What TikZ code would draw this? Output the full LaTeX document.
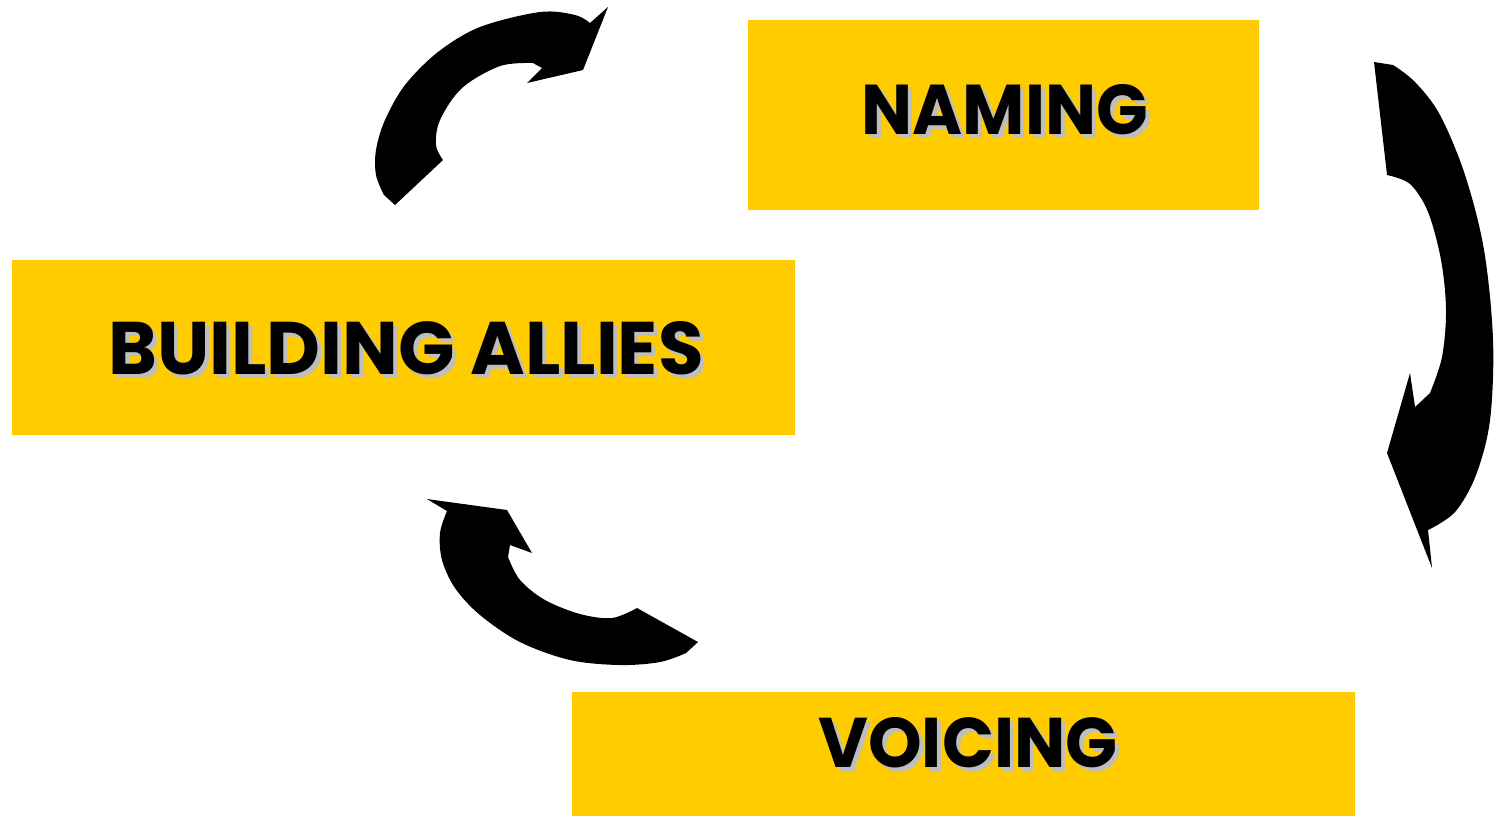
\documentclass[tikz,border=0pt]{standalone}
\usepackage{fontspec}
\setmainfont{Poppins}
\definecolor{gold}{RGB}{255,204,0}
\definecolor{shadowgray}{RGB}{190,190,190}
\newcommand\fitlabel[3]{\resizebox{#1}{#2}{\bfseries #3}}
\tikzset{
  box/.style={fill=gold, draw=none},
  txt/.style={inner sep=0pt, outer sep=0pt, text=black},
  shadowtxt/.style={inner sep=0pt, outer sep=0pt, text=shadowgray},
  cyclearrow/.style={fill=black, draw=none},
  curve/.style={smooth, tension=0.55}
}
\begin{document}
\begin{tikzpicture}[x=0.01cm,y=-0.01cm]
\path[use as bounding box, fill=white] (0,0) rectangle (1498,817);
% boxes
\path[box] (748,20) rectangle (1259,210);
\path[box] (12,260) rectangle (795,435);
\path[box] (572,692) rectangle (1355,816);
% labels
\node[shadowtxt] (naming-s) at (1009,114) {\fitlabel{2.86cm}{0.5cm}{NAMING}};
\node[txt] (naming-t) at (1005,110) {\fitlabel{2.86cm}{0.5cm}{NAMING}};
\node[shadowtxt] (allies-s) at (410,352) {\fitlabel{5.95cm}{0.53cm}{BUILDING ALLIES}};
\node[txt] (allies-t) at (406,348) {\fitlabel{5.95cm}{0.53cm}{BUILDING ALLIES}};
\node[shadowtxt] (voicing-s) at (972,747) {\fitlabel{2.99cm}{0.5cm}{VOICING}};
\node[txt] (voicing-t) at (968,743) {\fitlabel{2.99cm}{0.5cm}{VOICING}};
% arrow top-left
\path[cyclearrow] (395,205) -- plot[curve] coordinates {(384,195) (376,175) (376,150) (385,120) (405,85) (438,52) (480,27) (540,12) (575,15) (590,23)}
  -- (608,7) -- (583,70) -- (527,83) -- (542,68)
  -- plot[curve] coordinates {(533,63) (500,66) (462,88) (440,120) (436,145) (443,160)} -- cycle;
% arrow right
\path[cyclearrow] (1374,62) -- plot[curve] coordinates {(1393,65) (1415,82) (1440,115) (1465,175) (1484,250) (1493,340) (1490,420) (1476,475) (1455,512) (1428,530)}
  -- (1432,568) -- (1387,453) -- (1410,373) -- (1415,407)
  -- plot[curve] coordinates {(1430,393) (1442,357) (1446,310) (1441,260) (1428,212) (1410,184) (1387,175)} -- cycle;
% arrow bottom-left
\path[cyclearrow] (427,499) -- (507,510) -- (532,553) -- (510,545)
  -- plot[curve] coordinates {(508,557) (520,580) (545,600) (580,614) (612,618) (637,608)}
  -- (698,642)
  -- plot[curve] coordinates {(686,653) (660,662) (620,665) (570,660) (520,642) (480,615) (455,588) (442,560) (440,533) (447,511)} -- cycle;
\end{tikzpicture}
\end{document}
